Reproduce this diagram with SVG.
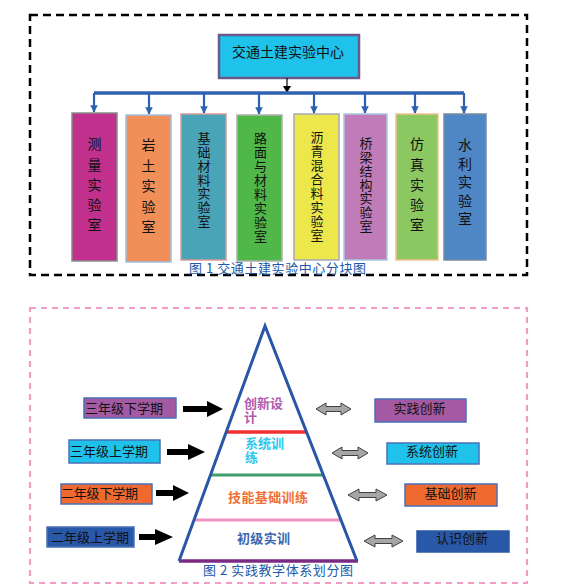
<svg xmlns="http://www.w3.org/2000/svg" width="563" height="585" viewBox="0 0 563 585">
<defs>
<style>
text{font-family:"Noto Sans CJK SC","Liberation Sans",sans-serif;}
.vt{font-size:14px;fill:#111;writing-mode:vertical-rl;text-orientation:upright;}
.vs{font-size:13px;fill:#111;writing-mode:vertical-rl;text-orientation:upright;}
.lab{font-size:13px;fill:#111;}
.cap{font-size:13px;fill:#2158a8;}
.blue{stroke:#2e62b0;stroke-width:2.2;fill:none;}
.bx{stroke-width:1.5;}
.blk{fill:#000;}
.dbl{fill:#a6a6a6;stroke:#404040;stroke-width:1;}
</style>
<marker id="ab" viewBox="0 0 10 10" refX="9" refY="5" markerWidth="3.4" markerHeight="3.4" orient="auto"><path d="M0,0L10,5L0,10z" fill="#2e62b0"/></marker>
</defs>
<rect x="30" y="15" width="497" height="260" fill="none" stroke="#000" stroke-width="2.5" stroke-dasharray="8,5"/>
<rect x="30" y="308" width="497" height="275" fill="none" stroke="#f09cc4" stroke-width="2.2" stroke-dasharray="6,5"/>

<g id="center">
<rect x="219" y="35" width="140" height="43" fill="#1ec2ea" stroke="#6a5a8c" stroke-width="2.5"/>
<text x="288" y="57" font-size="14" text-anchor="middle" fill="#111">交通土建实验中心</text>
</g>

<g id="connectors">
<line x1="287" y1="78" x2="287" y2="88" stroke="#000" stroke-width="1.2"/>
<path d="M283,86L291,86L287,93z" fill="#000"/>
<path d="M94,93L464,93" stroke="#2e62b0" stroke-width="3.5"/>
<line class="blue" x1="94" y1="93" x2="94" y2="112" marker-end="url(#ab)"/>
<line class="blue" x1="149" y1="93" x2="149" y2="114" marker-end="url(#ab)"/>
<line class="blue" x1="204" y1="93" x2="204" y2="113" marker-end="url(#ab)"/>
<line class="blue" x1="259" y1="93" x2="259" y2="114" marker-end="url(#ab)"/>
<line class="blue" x1="314" y1="93" x2="314" y2="113" marker-end="url(#ab)"/>
<line class="blue" x1="365" y1="93" x2="365" y2="113" marker-end="url(#ab)"/>
<line class="blue" x1="415" y1="93" x2="415" y2="113" marker-end="url(#ab)"/>
<line class="blue" x1="464" y1="93" x2="464" y2="113" marker-end="url(#ab)"/>
<g id="blackarrows">
<path class="blk" d="M183,406H207V401L223,409L207,417V412H183z"/>
<path class="blk" d="M167,449H188V444L205,452L188,460V455H167z"/>
<path class="blk" d="M156,490H173V485L189,493L173,501V496H156z"/>
<path class="blk" d="M139,534H155V529L173,537L155,545V540H139z"/>
</g>
<g id="doublearrows">
<path class="dbl" d="M316,409L326,403V406.5H341V403L351,409L341,415V411.5H326V415z"/>
<path class="dbl" d="M332,453L342,447V450.5H358V447L368,453L358,459V455.5H342V459z"/>
<path class="dbl" d="M348,495L359,489V492.5H376V489L387,495L376,501V497.5H359V501z"/>
<path class="dbl" d="M364,541L375,535V538.5H392V535L403,541L392,547V543.5H375V547z"/>
</g>
</g>

<g id="lab1"><rect class="bx" x="72" y="113" width="45" height="148" fill="#c0308c" stroke="#8a8a8a"/>
<text class="vt" x="94.5" y="137" letter-spacing="6.2">测量实验室</text></g>
<g id="lab2"><rect class="bx" x="126" y="115" width="45" height="147" fill="#f09058" stroke="#9fc0e0"/>
<text class="vt" x="148.5" y="138" letter-spacing="6.5">岩土实验室</text></g>
<g id="lab3"><rect class="bx" x="181" y="114" width="45" height="146" fill="#4aa4b8" stroke="#d89a9a"/>
<text class="vs" x="204" y="132" letter-spacing="0.7">基础材料实验室</text></g>
<g id="lab4"><rect class="bx" x="237" y="115" width="45" height="146" fill="#50b848" stroke="#b0b0b0"/>
<text class="vs" x="260.5" y="132" letter-spacing="0.9">路面与材料实验室</text></g>
<g id="lab5"><rect class="bx" x="294" y="114" width="45" height="146" fill="#ece84c" stroke="#a8a8b8"/>
<text class="vs" x="317" y="131" letter-spacing="0.9">沥青混合料实验室</text></g>
<g id="lab6"><rect class="bx" x="344" y="114" width="43" height="146" fill="#c07cb8" stroke="#a8c8e0"/>
<text class="vs" x="366" y="137" letter-spacing="0.7">桥梁结构实验室</text></g>
<g id="lab7"><rect class="bx" x="396" y="114" width="42" height="146" fill="#8cc862" stroke="#f0c090"/>
<text class="vt" x="417" y="137" letter-spacing="6.2">仿真实验室</text></g>
<g id="lab8"><rect class="bx" x="444" y="114" width="42" height="146" fill="#4e86c6" stroke="#7a8aa0"/>
<text class="vt" x="465" y="138" letter-spacing="4.5">水利实验室</text></g>

<text class="cap" x="189" y="273" textLength="177" lengthAdjust="spacing">图 1 交通土建实验中心分块图</text>

<g id="pyramid">
<line x1="226" y1="432" x2="307" y2="432" stroke="#f03030" stroke-width="3.5"/>
<line x1="211" y1="475" x2="324" y2="475" stroke="#3e9e6c" stroke-width="3"/>
<line x1="195" y1="520" x2="340" y2="520" stroke="#f094c0" stroke-width="3"/>
<line x1="179" y1="561" x2="358" y2="561" stroke="#7a2a82" stroke-width="3.5"/>
<path d="M179,561L265,326L357,561" fill="none" stroke="#2a56a8" stroke-width="3" stroke-linejoin="miter"/>
<text font-size="13" font-weight="bold" fill="#b05cb0"><tspan x="244" y="408">创新设</tspan><tspan x="244" y="422">计</tspan></text>
<text font-size="13" font-weight="bold" fill="#30c8f0"><tspan x="245" y="448">系统训</tspan><tspan x="245" y="462">练</tspan></text>
<text x="228" y="502" font-size="13" font-weight="bold" fill="#f07036" textLength="80" lengthAdjust="spacing">技能基础训练</text>
<text x="237" y="543" font-size="13" font-weight="bold" fill="#3a68b0" textLength="53" lengthAdjust="spacing">初级实训</text>
</g>

<g id="term1"><rect class="bx" x="84" y="398" width="92" height="20" fill="#a45aa2" stroke="#4a70b8"/><text class="lab" x="85" y="413" textLength="78" lengthAdjust="spacing">三年级下学期</text></g>
<g id="term2"><rect class="bx" x="69" y="440" width="91" height="23" fill="#1ec2ea" stroke="#4a70b8"/><text class="lab" x="70" y="456" textLength="78" lengthAdjust="spacing">三年级上学期</text></g>
<g id="term3"><rect class="bx" x="61" y="484" width="91" height="20" fill="#f06a30" stroke="#4a70b8"/><text class="lab" x="61" y="498" textLength="77" lengthAdjust="spacing">二年级下学期</text></g>
<g id="term4"><rect class="bx" x="47" y="527" width="87" height="20" fill="#2a58a8" stroke="#4a70b8"/><text class="lab" x="51" y="542" textLength="78" lengthAdjust="spacing" fill="#f0f0f0">二年级上学期</text></g>

<g id="inno1"><rect class="bx" x="375" y="399" width="91" height="23" fill="#a45aa2" stroke="#4a70b8"/><text class="lab" x="419.5" y="413" text-anchor="middle">实践创新</text></g>
<g id="inno2"><rect class="bx" x="387" y="443" width="92" height="21" fill="#1ec2ea" stroke="#4a70b8"/><text class="lab" x="432" y="456" text-anchor="middle">系统创新</text></g>
<g id="inno3"><rect class="bx" x="405" y="484" width="92" height="22" fill="#f06a30" stroke="#4a70b8"/><text class="lab" x="450.5" y="498" text-anchor="middle">基础创新</text></g>
<g id="inno4"><rect class="bx" x="417" y="531" width="92" height="21" fill="#2a58a8" stroke="#2a58a8"/><text class="lab" x="462" y="543" text-anchor="middle" fill="#e8e8e8">认识创新</text></g>

<text class="cap" x="203" y="575" textLength="150" lengthAdjust="spacing">图 2 实践教学体系划分图</text>
</svg>
